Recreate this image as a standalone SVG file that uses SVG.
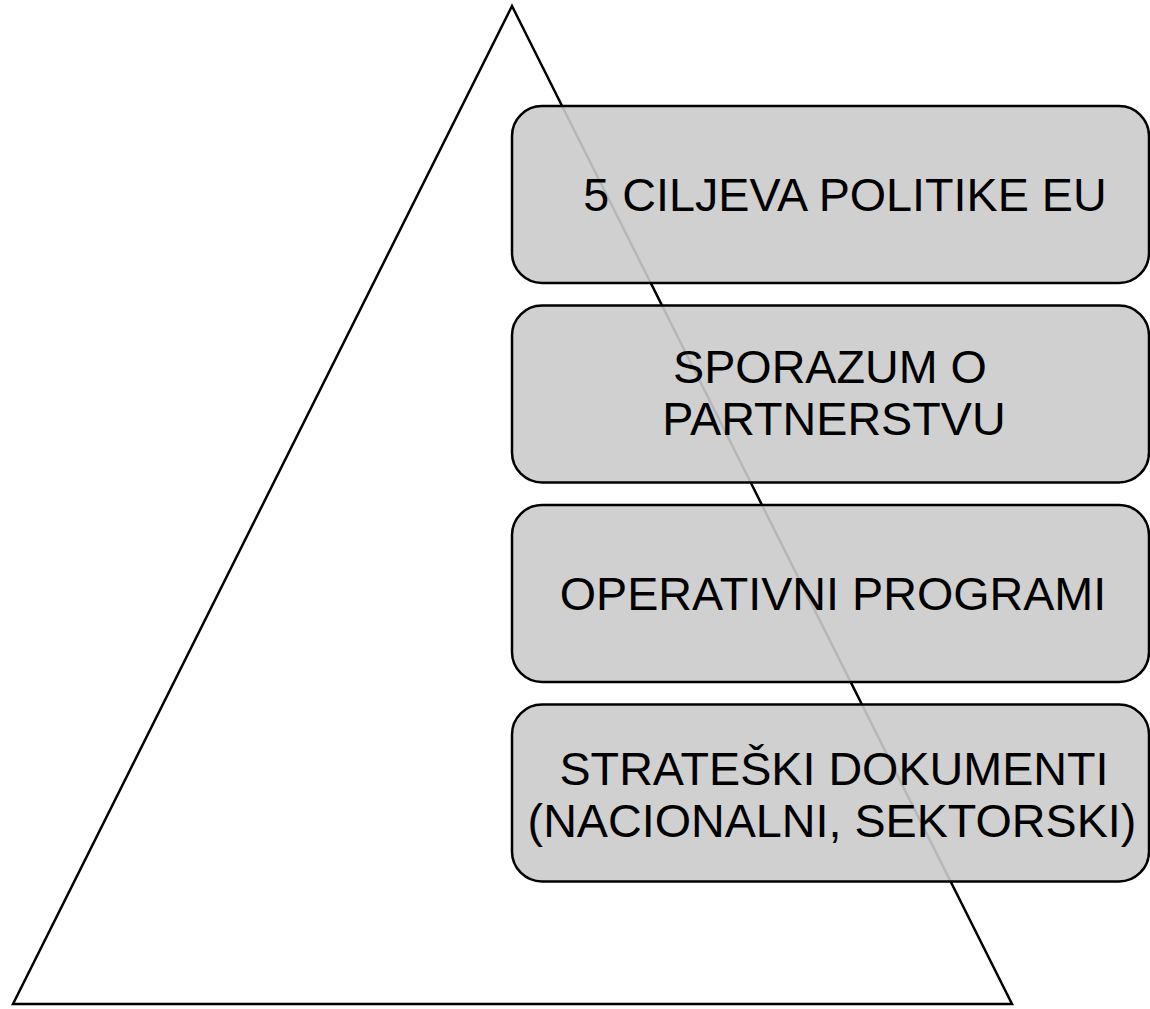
<svg xmlns="http://www.w3.org/2000/svg" width="1150" height="1009" viewBox="0 0 1150 1009">
<style>
.tri{fill:none;stroke:#000;stroke-width:2.5;stroke-linejoin:miter}
.box{fill:rgb(203,203,203);fill-opacity:0.9;stroke:#000;stroke-width:2.5}
.lbl{font-family:"Liberation Sans",Arial,sans-serif;font-size:46.7px;fill:#000;text-anchor:middle}
</style>
<rect width="1150" height="1009" fill="#fff"/>
<g id="pyramid">
<polygon class="tri" points="512,6 13,1004 1012,1004"/>
</g>
<g id="connectors"></g>
<g id="node1">
<rect class="box" x="512" y="106" width="637" height="177" rx="30" ry="30"/>
<text class="lbl" x="845" y="211">5 CILJEVA POLITIKE EU</text>
</g>
<g id="node2">
<rect class="box" x="512" y="305.5" width="637" height="177" rx="30" ry="30"/>
<text class="lbl" x="830" y="383">SPORAZUM O</text>
<text class="lbl" x="834" y="435">PARTNERSTVU</text>
</g>
<g id="node3">
<rect class="box" x="512" y="505" width="637" height="177" rx="30" ry="30"/>
<text class="lbl" x="833" y="610">OPERATIVNI PROGRAMI</text>
</g>
<g id="node4">
<rect class="box" x="512" y="704.5" width="637" height="177" rx="30" ry="30"/>
<text class="lbl" x="834" y="785">STRATEŠKI DOKUMENTI</text>
<text class="lbl" x="832" y="837">(NACIONALNI, SEKTORSKI)</text>
</g>
</svg>
